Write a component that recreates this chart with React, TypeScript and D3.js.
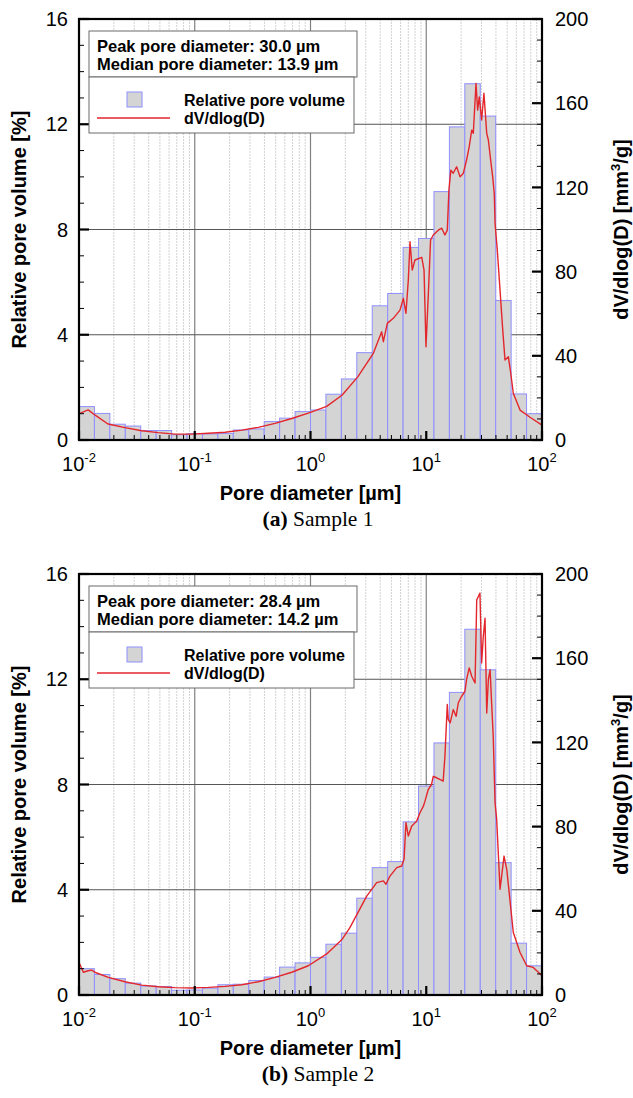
import React from 'react';
import * as d3 from 'd3';

const W = 633;
const H = 1098;

// histogram bin edges in µm (7.5 bins per decade)
const binEdges = [
  0.01, 0.01359, 0.01848, 0.02512, 0.03415, 0.04642, 0.0631, 0.08577, 0.1166, 0.1585, 0.2154,
  0.2929, 0.3981, 0.5412, 0.7356, 1, 1.359, 1.848, 2.512, 3.415, 4.642, 6.31, 8.577, 11.66,
  15.85, 21.54, 29.29, 39.81, 54.12, 73.56, 100,
];

// relative pore volume [%] per bin
const barsSample1 = [
  1.27, 1.01, 0.6, 0.53, 0.36, 0.36, 0.2, 0.24, 0.23, 0.25, 0.38, 0.42, 0.7, 0.83, 1.08,
  1.14, 1.74, 2.32, 3.32, 5.1, 5.57, 7.32, 7.66, 9.44, 11.9, 13.54, 12.31, 5.3, 1.75, 1.0,
];
const barsSample2 = [
  1.0, 0.78, 0.62, 0.45, 0.34, 0.32, 0.18, 0.19, 0.26, 0.39, 0.41, 0.55, 0.68, 1.06, 1.22,
  1.43, 1.93, 2.35, 3.68, 4.84, 5.07, 6.58, 7.94, 9.58, 11.5, 13.9, 12.36, 5.03, 1.97, 1.11,
];

// dV/dlog(D) curves [mm3/g]
const curve1Diam = [
  0.01, 0.012, 0.0137, 0.0178, 0.025, 0.0348, 0.0484, 0.0675, 0.0942, 0.131, 0.183, 0.255,
  0.354, 0.494, 0.689, 0.957, 1.38, 1.88, 2.56, 3.49, 4.12, 4.26, 4.61, 5.19, 5.93, 6.34,
  6.68, 7.0, 7.24, 7.57, 7.99, 9.14, 9.57, 9.95, 10.4, 10.9, 11.5, 12.7, 13.6, 14.5, 15.2,
  15.7, 16.3, 17.1, 18.3, 19.6, 20.9, 22.3, 23.5, 24.7, 25.5, 26.9, 27.8, 28.7, 30.1, 31.5,
  33.3, 34.4, 36.0, 37.5, 38.7, 39.3, 41.1, 43.4, 45.8, 47.9, 51.2, 53.7, 56.5, 64.6, 78.8,
  100,
];
const curve1Vol = [
  12.5, 14.3, 11.9, 7.6, 5.9, 4.4, 3.5, 2.8, 2.8, 3.2, 3.7, 4.7, 6.0, 7.9, 10.2, 12.8, 16,
  21.4, 30, 41.2, 51.4, 46.7, 55.4, 57.8, 61.7, 67.3, 60.2, 76, 94.2, 80.7, 85.5, 86.8, 80.7,
  44.3, 68, 95, 97.4, 99.7, 100.6, 97.4, 99.7, 118.7, 128.2, 126.7, 129.8, 125, 126.7, 133,
  139.3, 147.2, 145.7, 169.4, 156.7, 163, 152, 164.7, 145.7, 142.5, 133, 125, 117, 103, 90.2,
  71.2, 52.2, 38, 39.6, 31.7, 22.2, 14.2, 10.8, 7.1,
];
const curve2Diam = [
  0.01, 0.0109, 0.012, 0.0129, 0.0137, 0.0179, 0.025, 0.0348, 0.0484, 0.0675, 0.0942, 0.131,
  0.183, 0.255, 0.354, 0.494, 0.689, 0.957, 1.38, 1.88, 2.19, 2.56, 3.06, 3.73, 4.26, 4.49,
  4.86, 5.56, 6.14, 6.43, 6.68, 7.0, 7.48, 8.26, 8.83, 9.44, 9.75, 10.4, 11.1, 11.5, 12.3,
  13.1, 14.0, 14.5, 15.2, 15.5, 16.1, 17.1, 18.1, 18.9, 20.2, 21.6, 22.3, 23.5, 24.7, 26.4,
  27.3, 28.2, 29.1, 30.1, 31.1, 32.2, 33.3, 34.4, 35.6, 36.7, 37.9, 39.3, 40.6, 43.4, 47.0,
  49.6, 56.5, 64.6, 73.8, 84.1, 100,
];
const curve2Vol = [
  15.5, 10.8, 11.5, 11.8, 10.8, 8.4, 6.3, 4.7, 3.9, 3.5, 3.3, 3.6, 4.1, 4.9, 6.3, 8.4, 10.8,
  13.9, 19.5, 26.5, 32, 39, 47, 53.4, 54.2, 52.6, 56.5, 60.5, 61.3, 64.5, 81.9, 75.5, 80.2,
  82.6, 86.6, 89.7, 92.1, 97.6, 100, 103.9, 103.2, 102.4, 101.6, 113.4, 138, 130.8, 129.3,
  135.6, 132.4, 138.7, 141.9, 144.3, 149.8, 155.4, 151.4, 148.2, 187.7, 189.3, 190.9, 157.7,
  170.3, 179, 134, 149.8, 154.5, 138.7, 122.9, 91.3, 83.4, 50.2, 66, 59.7, 29.7, 20.2, 13.9,
  13.1, 9.2,
];

const leftTicks = [0, 4, 8, 12, 16];
const rightTicks = [0, 40, 80, 120, 160, 200];
const decadeExps = [-2, -1, 0, 1, 2];

const SANS = "'Liberation Sans', Arial, sans-serif";
const SERIF = "'Liberation Serif', 'Times New Roman', serif";

type PanelProps = {
  top: number;
  id: string;
  bars: number[];
  diam: number[];
  vol: number[];
  peak: string;
  median: string;
  letter: string;
  caption: string;
};

const Panel = ({ top, id, bars, diam, vol, peak, median, letter, caption }: PanelProps) => {
  const x0 = 79;
  const x1 = 542;
  const y0 = top;
  const y1 = top + 421;

  const x = d3.scaleLog().domain([0.01, 100]).range([x0, x1]);
  const yL = d3.scaleLinear().domain([0, 16]).range([y1, y0]);
  const yR = d3.scaleLinear().domain([0, 200]).range([y1, y0]);

  const allX = x.ticks();
  const minorX = allX.filter(v => Math.abs(Math.log10(v) - Math.round(Math.log10(v))) > 1e-6);
  const majorX = decadeExps.map(e => 10 ** e);

  const line = d3.line<number>()
    .x((_, i) => x(diam[i]))
    .y(v => yR(v));

  const mid = (y0 + y1) / 2;

  return (
    <g>
      <defs>
        <clipPath id={id}>
          <rect x={x0} y={y0} width={x1 - x0} height={y1 - y0} />
        </clipPath>
      </defs>

      {/* grid */}
      {minorX.map(v => (
        <line key={'mx' + v} x1={x(v)} x2={x(v)} y1={y0} y2={y1}
          stroke="#d2d2d2" strokeWidth={1} strokeDasharray="2,1" />
      ))}
      {majorX.map(v => (
        <line key={'Mx' + v} x1={x(v)} x2={x(v)} y1={y0} y2={y1} stroke="#808080" strokeWidth={1.2} />
      ))}
      {[4, 8, 12].map(v => (
        <line key={'gy' + v} x1={x0} x2={x1} y1={yL(v)} y2={yL(v)} stroke="#555" strokeWidth={1.2} />
      ))}

      {/* bars */}
      {bars.map((v, i) => (
        <rect key={'b' + i}
          x={x(binEdges[i])} y={yL(v)}
          width={x(binEdges[i + 1]) - x(binEdges[i])} height={y1 - yL(v)}
          fill="#d4d4d4" stroke="#8f8fff" strokeWidth={1} />
      ))}

      {/* curve */}
      <path d={line(vol) || ''} fill="none" stroke="#e3262b" strokeWidth={1.4}
        strokeLinejoin="round" clipPath={`url(#${id})`} />

      {/* ticks */}
      {minorX.map(v => (
        <line key={'tx' + v} x1={x(v)} x2={x(v)} y1={y1} y2={y1 - 5} stroke="#000" strokeWidth={1} />
      ))}
      {majorX.map(v => (
        <line key={'Tx' + v} x1={x(v)} x2={x(v)} y1={y1} y2={y1 - 9} stroke="#000" strokeWidth={2.2} />
      ))}
      {d3.range(0, 17).map(v => (
        <line key={'tl' + v} x1={x0} x2={x0 + (v % 4 === 0 ? 10 : 5)} y1={yL(v)} y2={yL(v)}
          stroke="#000" strokeWidth={v % 4 === 0 ? 2.2 : 1} />
      ))}
      {d3.range(0, 201, 10).map(v => (
        <line key={'tr' + v} x1={x1} x2={x1 - (v % 40 === 0 ? 10 : 5)} y1={yR(v)} y2={yR(v)}
          stroke="#000" strokeWidth={v % 40 === 0 ? 2.2 : 1} />
      ))}

      {/* frame */}
      <rect x={x0} y={y0} width={x1 - x0} height={y1 - y0} fill="none" stroke="#000" strokeWidth={2.2} />

      {/* tick labels */}
      {leftTicks.map(v => (
        <text key={'ll' + v} x={x0 - 11} y={yL(v)} dy="0.36em" textAnchor="end"
          fontFamily={SANS} fontSize={20}>{v}</text>
      ))}
      {rightTicks.map(v => (
        <text key={'rl' + v} x={x1 + 13} y={yR(v)} dy="0.36em" textAnchor="start"
          fontFamily={SANS} fontSize={20}>{v}</text>
      ))}
      {decadeExps.map(e => (
        <text key={'xl' + e} x={x(10 ** e)} y={y1 + 31} textAnchor="middle"
          fontFamily={SANS} fontSize={20}>
          10<tspan dy={-9} fontSize={13}>{e}</tspan>
        </text>
      ))}

      {/* axis titles */}
      <text x={x0 + (x1 - x0) / 2} y={y1 + 60} textAnchor="middle"
        fontFamily={SANS} fontSize={20} fontWeight="bold">Pore diameter [µm]</text>
      <text transform={`translate(26,${mid}) rotate(-90)`} textAnchor="middle"
        fontFamily={SANS} fontSize={20} fontWeight="bold">Relative pore volume [%]</text>
      <text transform={`translate(628,${mid}) rotate(-90)`} textAnchor="middle"
        fontFamily={SANS} fontSize={20} fontWeight="bold">
        dV/dlog(D) [mm<tspan dy={-8} fontSize={13}>3</tspan><tspan dy={8}>/g]</tspan>
      </text>

      {/* caption */}
      <text x={318} y={y1 + 86} textAnchor="middle" fontFamily={SERIF} fontSize={21.5}>
        <tspan fontWeight="bold">({letter})</tspan> {caption}
      </text>

      {/* info + legend boxes */}
      <rect x={89} y={y0 + 12} width={268} height={46} fill="#fff" stroke="#6a6a6a" strokeWidth={1} />
      <text x={97} y={y0 + 32.5} fontFamily={SANS} fontSize={16.5} fontWeight="bold">{peak}</text>
      <text x={97} y={y0 + 50.5} fontFamily={SANS} fontSize={16.5} fontWeight="bold">{median}</text>
      <rect x={89} y={y0 + 58} width={265} height={56} fill="#fff" stroke="#6a6a6a" strokeWidth={1} />
      <rect x={127} y={y0 + 73} width={15} height={15} fill="#d4d4d4" stroke="#8f8fff" strokeWidth={1} />
      <text x={184} y={y0 + 87} fontFamily={SANS} fontSize={16} fontWeight="bold">Relative pore volume</text>
      <line x1={97} x2={170} y1={y0 + 99} y2={y0 + 99} stroke="#e3262b" strokeWidth={1.4} />
      <text x={184} y={y0 + 105} fontFamily={SANS} fontSize={16} fontWeight="bold">dV/dlog(D)</text>
    </g>
  );
};

const App = () => {
  return (
    <svg width={W} height={H} viewBox={`0 0 ${W} ${H}`}
      style={{ position: 'absolute', left: 0, top: 0, background: '#fff' }}>
      <rect x={0} y={0} width={W} height={H} fill="#fff" />
      <Panel top={19} id="clipA" bars={barsSample1} diam={curve1Diam} vol={curve1Vol}
        peak="Peak pore diameter: 30.0 µm" median="Median pore diameter: 13.9 µm"
        letter="a" caption="Sample 1" />
      <Panel top={574} id="clipB" bars={barsSample2} diam={curve2Diam} vol={curve2Vol}
        peak="Peak pore diameter: 28.4 µm" median="Median pore diameter: 14.2 µm"
        letter="b" caption="Sample 2" />
    </svg>
  );
};

export default App;
